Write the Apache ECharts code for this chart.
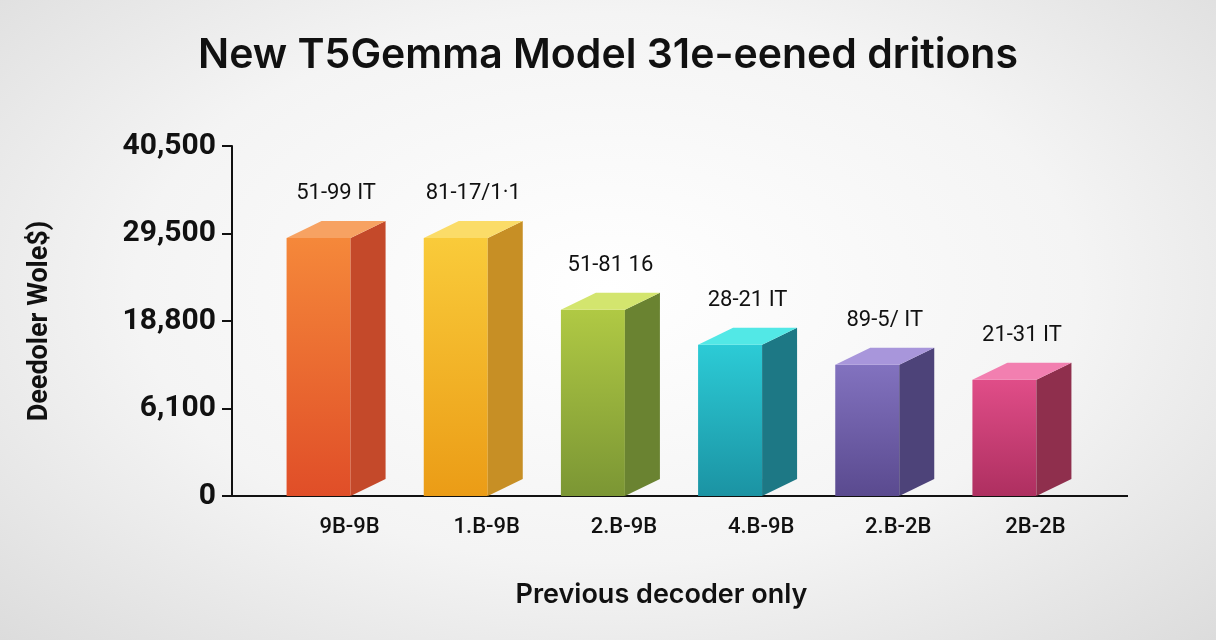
<!DOCTYPE html>
<html>
<head>
<meta charset="utf-8">
<script src="https://cdn.jsdelivr.net/npm/echarts@6/dist/echarts.min.js"></script>
<style>
  html, body { margin: 0; padding: 0; }
  #main { width: 1216px; height: 640px;
    background: radial-gradient(ellipse at 50% 45%, #ffffff 0%, #f4f4f4 55%, #dcdcdc 100%); }
</style>
</head>
<body>
<div id="main"></div>
<script>
var categories = ['9B-9B', '1.B-9B', '2.B-9B', '4.B-9B', '2.B-2B', '2B-2B'];
// bar heights in axis steps (the tick labels are evenly spaced, not linear)
var values = [2.95, 2.95, 2.13, 1.73, 1.5, 1.33];
var barLabels = ['51-99 IT', '81-17/1\u00b71', '51-81 16', '28-21 IT', '89-5/ IT', '21-31 IT'];
var tickLabels = ['0', '6,100', '18,800', '29,500', '40,500'];

// front top, front bottom, side, top face
var colors = [
  ['#f5883a', '#e04e28', '#c4492a', '#f7a262'],
  ['#f9cb3a', '#eb9c16', '#c78f25', '#fbdc68'],
  ['#b0c944', '#7b9634', '#6a8331', '#d3e56e'],
  ['#2ccbd6', '#1b93a3', '#1d7885', '#52e8e6'],
  ['#8272bf', '#5a4a8f', '#4d4379', '#a896db'],
  ['#e04d88', '#ae2f60', '#8f2f4d', '#f27fb0']
];

var myChart = echarts.init(document.getElementById('main'));

option = {
  title: {
    text: 'New T5Gemma Model 31e-eened dritions',
    left: 'center', top: 30,
    textStyle: { fontSize: 41, fontWeight: 600, color: '#111', fontFamily: 'Inter' }
  },
  grid: { left: 250, right: 143, top: 146, bottom: 144 },
  xAxis: {
    type: 'category',
    data: categories,
    axisLine: { show: false },
    axisTick: { show: false },
    axisLabel: { fontSize: 22, fontWeight: 500, color: '#111', margin: 20, fontFamily: 'Roboto',
      padding: [0, 0, 0, 62] },
    name: 'Previous decoder only',
    nameLocation: 'middle',
    nameGap: 85,
    nameTextStyle: { fontSize: 27, fontWeight: 600, color: '#111', fontFamily: 'Inter' }
  },
  yAxis: {
    type: 'value',
    min: 0, max: 4, interval: 1,
    offset: 18,
    axisLine: { show: true, lineStyle: { color: '#111', width: 2 } },
    axisTick: { show: true, length: 10, lineStyle: { color: '#111', width: 2 } },
    splitLine: { show: false },
    axisLabel: {
      fontSize: 30, fontWeight: 'bold', color: '#111', margin: 16, fontFamily: 'Roboto',
      formatter: function (v) { return tickLabels[v]; }
    },
    name: 'Deedoler Wole$)',
    nameLocation: 'middle',
    nameGap: 178,
    nameTextStyle: { fontSize: 27, fontWeight: 'bold', color: '#111', fontFamily: 'Roboto' }
  },
  graphic: [{
    type: 'line',
    shape: { x1: 231, y1: 496, x2: 1128, y2: 496 },
    style: { stroke: '#111', lineWidth: 2 }
  }],
  series: [{
    type: 'custom',
    data: values.map(function (v, i) { return [i, v]; }),
    renderItem: function (params, api) {
      var i = api.value(0);
      var top = api.coord([i, api.value(1)]);
      var bot = api.coord([i, 0]);
      var w = 64, dx = 35, dy = 17;
      var x0 = top[0] - w / 2, x1 = top[0] + w / 2;
      var c = colors[i];
      return {
        type: 'group',
        children: [
          {
            type: 'rect',
            shape: { x: x0, y: top[1], width: w, height: bot[1] - top[1] },
            style: { fill: new echarts.graphic.LinearGradient(0, 0, 0, 1, [
              { offset: 0, color: c[0] }, { offset: 1, color: c[1] }]) }
          },
          {
            type: 'polygon',
            shape: { points: [[x1, top[1]], [x1 + dx, top[1] - dy], [x1 + dx, bot[1] - dy], [x1, bot[1]]] },
            style: { fill: c[2] }
          },
          {
            type: 'polygon',
            shape: { points: [[x0, top[1]], [x0 + dx, top[1] - dy], [x1 + dx, top[1] - dy], [x1, top[1]]] },
            style: { fill: c[3] }
          },
          {
            type: 'text',
            style: {
              text: barLabels[i], x: top[0] + dx / 2, y: top[1] - dy - 16,
              align: 'center', verticalAlign: 'bottom',
              fontSize: 22, fill: '#111', fontFamily: 'Roboto'
            }
          }
        ]
      };
    }
  }]
};
myChart.setOption(option);
</script>
</body>
</html>
